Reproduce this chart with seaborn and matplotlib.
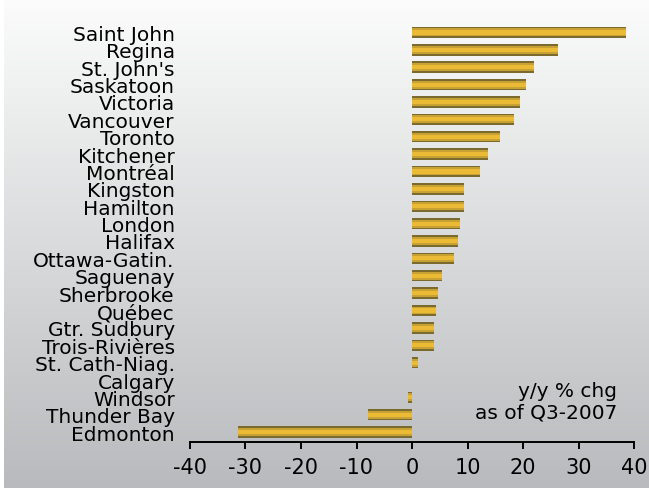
import numpy as np
import pandas as pd
import matplotlib
matplotlib.use("Agg")
import matplotlib.pyplot as plt
import seaborn as sns

# Year-over-year change by metropolitan area, Q3-2007
cities = [
    "Saint John", "Regina", "St. John's", "Saskatoon", "Victoria", "Vancouver",
    "Toronto", "Kitchener", "Montréal", "Kingston", "Hamilton", "London",
    "Halifax", "Ottawa-Gatin.", "Saguenay", "Sherbrooke", "Québec",
    "Gtr. Sudbury", "Trois-Rivières", "St. Cath-Niag.", "Calgary", "Windsor",
    "Thunder Bay", "Edmonton",
]
change = [
    38.6, 26.3, 22.0, 20.5, 19.5, 18.4,
    15.9, 13.7, 12.3, 9.4, 9.4, 8.6,
    8.3, 7.6, 5.4, 4.7, 4.3,
    4.0, 4.0, 1.1, 0.0, -0.7,
    -7.9, -31.3,
]
x_ticks = [-40, -30, -20, -10, 0, 10, 20, 30, 40]
note = "y/y % chg\nas of Q3-2007"

df = pd.DataFrame({"city": cities, "change": change})

sns.set_theme(style="white")
plt.rcParams["font.family"] = ["DejaVu Sans"]

fig = plt.figure(figsize=(6.49, 4.89), dpi=100)
fig.patch.set_facecolor("white")

# Vertical grey gradient backdrop
bg = fig.add_axes([4 / 649, 0, 1 - 4 / 649, 1])
grad = np.linspace(0, 1, 256).reshape(-1, 1)
top = np.array([0.985, 0.988, 0.985])
bottom = np.array([0.722, 0.730, 0.741])
img = top + (bottom - top) * grad[..., None]
bg.imshow(img, aspect="auto", extent=[0, 1, 0, 1], origin="upper")
bg.axis("off")

ax = fig.add_axes([190 / 649, 46.3 / 489, 444 / 649, 421.4 / 489])
ax.patch.set_alpha(0)

# Layered bars give the striped, tube-like fill
layers = [(0.66, "#7b6a2e"), (0.46, "#c7a133"), (0.24, "#ecbb36")]
for w, c in layers:
    sns.barplot(data=df, x="change", y="city", orient="h", color=c,
                width=w, saturation=1, ax=ax, errorbar=None, linewidth=0)

ax.set_xlim(-40, 40)
ax.set_ylim(23.55, -0.7)
ax.set_xticks(x_ticks)
ax.set_xticklabels([str(t) for t in x_ticks])
ax.set_xlabel("")
ax.set_ylabel("")

for s in ["top", "right", "left"]:
    ax.spines[s].set_visible(False)
ax.spines["bottom"].set_color("black")
ax.spines["bottom"].set_linewidth(1.4)

ax.tick_params(axis="x", direction="out", length=5, width=1.4, color="black",
               labelsize=15, labelcolor="black", pad=6, bottom=True)
ax.tick_params(axis="y", length=0, labelsize=14.5, labelcolor="black", pad=11)

ax.text(617, 489 - 402, note, transform=None, ha="right", va="center",
        fontsize=14.5, color="black", linespacing=1.15)

fig.savefig("out.png", dpi=100)
